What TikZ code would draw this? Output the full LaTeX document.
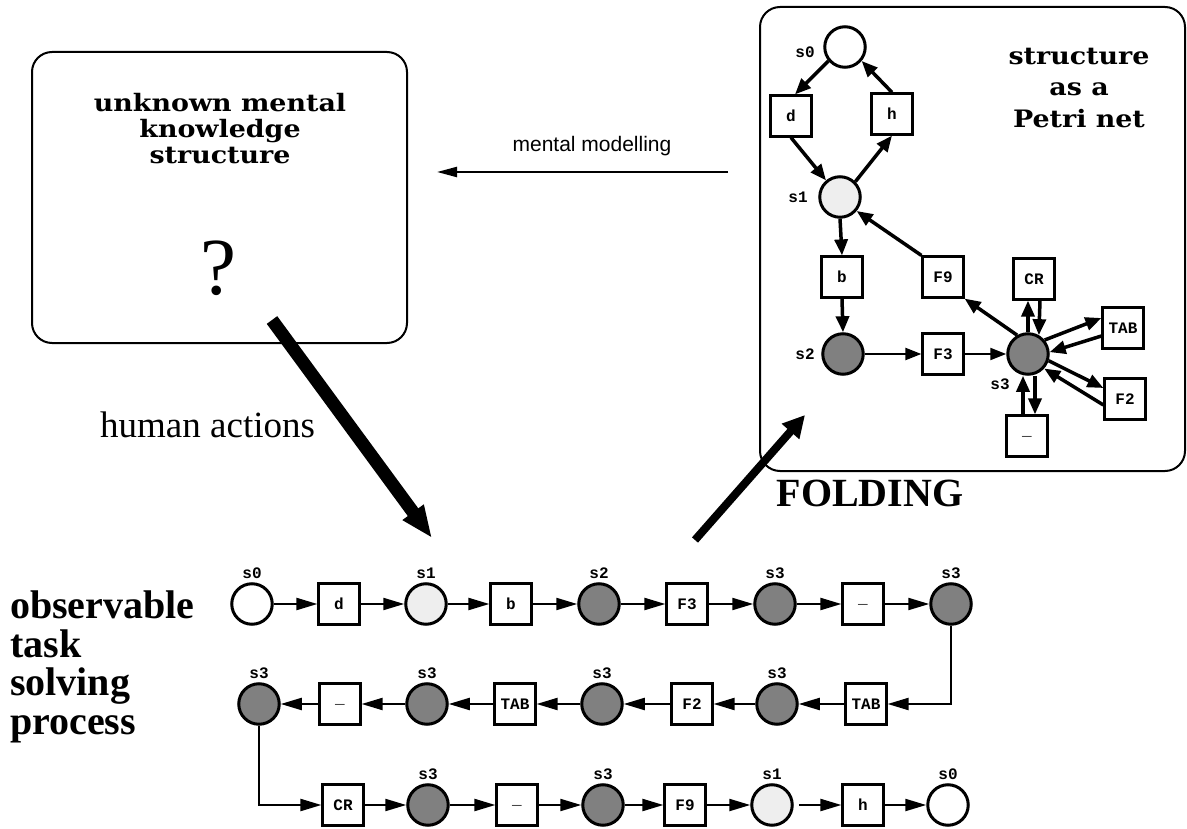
\documentclass[tikz,border=0pt]{standalone}
\usepackage{fontspec}
\setmainfont{Liberation Serif}
\newfontfamily\headfont[FakeStretch=1.12]{DejaVu Serif}
\newfontfamily\pnmono{Liberation Mono}
\newfontfamily\mmsans{Liberation Sans}
\usetikzlibrary{arrows.meta}
\definecolor{lightp}{HTML}{EEEEEE}
\definecolor{darkp}{HTML}{808080}
\begin{document}
\begin{tikzpicture}[x=1pt,y=-1pt,
  place/.style={circle, draw, line width=3pt, minimum size=40.5pt, inner sep=0pt},
  p0/.style={place, fill=white},
  p1/.style={place, fill=lightp},
  p2/.style={place, fill=darkp},
  trans/.style={rectangle, draw, line width=2.2pt, minimum size=41pt, inner sep=0pt, fill=white,
    font=\pnmono\bfseries\fontsize{16}{16}\selectfont},
  lab/.style={font=\pnmono\bfseries\fontsize{16}{16}\selectfont, inner sep=0pt},
  toplab/.style={label={[lab,label distance=3pt]above:#1}},
  seq/.style={-{Triangle[length=21pt,width=12pt]}, line width=2.2pt},
  pn/.style={-{Triangle[length=16pt,width=13pt]}, line width=3.5pt},
  pnthin/.style={-{Triangle[length=16pt,width=12pt]}, line width=2.2pt},
  bigbox/.style={draw, line width=2pt, rounded corners=20pt, inner sep=0pt},
  head/.style={font=\headfont\bfseries\fontsize{24}{26}\selectfont, align=center, inner sep=0pt},
]
\useasboundingbox (0,0) rectangle (1187,829);

% ---------- big boxes ----------
\node[bigbox, minimum width=375pt, minimum height=291pt] (kbox) at (219.5,197.5) {};
\node[bigbox, minimum width=425pt, minimum height=464pt] (pbox) at (972.5,239) {};

\node[head] (ktext) at (220,129) {unknown mental\\knowledge\\structure};
\node[font=\fontsize{81}{81}\selectfont, inner sep=0pt] (qm) at (218,268) {?};

\node[head, font=\headfont\bfseries\fontsize{24}{31.5}\selectfont] (ptext) at (1079,88) {structure\\as a\\Petri net};

% ---------- mental modelling ----------
\coordinate (mmS) at (728,172);
\coordinate (mmE) at (437,172);
\draw[line width=2.2pt, -{Triangle[length=20pt,width=10pt]}] (mmS) -- (mmE);
\node[font=\mmsans\fontsize{21}{21}\selectfont, inner sep=0pt] (mmlab) at (592,146) {mental modelling};

% ---------- Petri net ----------
\node[p0] (P0) at (845,47) {};
\node[trans] (Pd) at (791,116) {d};
\node[trans] (Ph) at (892,114) {h};
\node[p1] (P1) at (840,197) {};
\node[trans] (Pb) at (842,277) {b};
\node[trans] (PF9) at (943,277) {F9};
\node[trans] (PCR) at (1034,279) {CR};
\node[p2] (P2) at (843,354) {};
\node[trans] (PF3) at (943,354) {F3};
\node[p2] (P3) at (1028,354) {};
\node[trans] (PTAB) at (1123,328) {TAB};
\node[trans] (PF2) at (1125,399) {F2};
\node[trans] (Pu) at (1027,436) {\_};

\node[lab] (L0) at (805,52) {s0};
\node[lab] (L1) at (798,197) {s1};
\node[lab] (L2) at (805,354) {s2};
\node[lab] (L3) at (1000,384) {s3};

\draw[pn] (P0.220) -- ([xshift=4pt]Pd.north);
\draw[pn] (Ph.north) -- (P0.-40);
\draw[pn] (Pd.south) -- (P1.130);
\draw[pn] (P1.45) -- (Ph.south);
\draw[pn] (P1.south) -- (Pb.north);
\draw[pn] (PF9.north west) -- (P1.-40);
\draw[pn] (Pb.south) -- (P2.north);
\draw[pnthin] (P2) -- (PF3);
\draw[pnthin] (PF3) -- (P3);
\draw[pn] (P3.120) -- (PF9.south east);
\draw[pn] (P3.north) -- (P3.north |- PCR.south);
\draw[pn] ([xshift=6pt]PCR.south) -- (P3.60);
\draw[pn] (P3.40) -- ([yshift=10pt]PTAB.west);
\draw[pn] ([yshift=-8pt]PTAB.west) -- (P3.5);
\draw[pn] (P3.-18) -- ([yshift=11pt]PF2.west);
\draw[pn] ([yshift=-6pt]PF2.west) -- (P3.-42);
\draw[pn] ([xshift=7pt]P3.south) -- ([xshift=8pt]Pu.north);
\draw[pn] ([xshift=-4pt]Pu.north) -- ([xshift=-5pt]P3.south);

% ---------- thick arrows ----------
\coordinate (haS) at (272,320);
\coordinate (haE) at (432,538);
\draw[line width=13pt, -{Triangle[length=32pt,width=24pt]}] (haS) -- (haE);
\node[font=\fontsize{37}{37}\selectfont, anchor=base west, inner sep=0pt] (halab) at (100,437) {human actions};

\coordinate (foS) at (695,540);
\coordinate (foE) at (805,415);
\draw[line width=8pt, -{Triangle[length=22pt,width=22pt]}] (foS) -- (foE);
\node[font=\bfseries\fontsize{40}{40}\selectfont, inner sep=0pt] (folab) at (870,493) {FOLDING};

\node[font=\bfseries\fontsize{40}{38.5}\selectfont, align=left, anchor=north west, inner sep=0pt] (obs) at (10,591) {observable\\task\\solving\\process};

% ---------- observed sequence ----------
\node[p0, toplab=s0] (a1) at (252,604) {};
\node[trans] (a2) at (339,604) {d};
\node[p1, toplab=s1] (a3) at (426,604) {};
\node[trans] (a4) at (511,604) {b};
\node[p2, toplab=s2] (a5) at (599,604) {};
\node[trans] (a6) at (687,604) {F3};
\node[p2, toplab=s3] (a7) at (775,604) {};
\node[trans] (a8) at (863,604) {\_};
\node[p2, toplab=s3] (a9) at (951,604) {};

\node[trans] (b1) at (866,704) {TAB};
\node[p2, toplab=s3] (b2) at (777,704) {};
\node[trans] (b3) at (692,704) {F2};
\node[p2, toplab=s3] (b4) at (602,704) {};
\node[trans] (b5) at (515,704) {TAB};
\node[p2, toplab=s3] (b6) at (427,704) {};
\node[trans] (b7) at (340,704) {\_};
\node[p2, toplab=s3] (b8) at (259,704) {};

\node[trans] (c1) at (343,805) {CR};
\node[p2, toplab=s3] (c2) at (428,805) {};
\node[trans] (c3) at (517,805) {\_};
\node[p2, toplab=s3] (c4) at (603,805) {};
\node[trans] (c5) at (685,805) {F9};
\node[p1, toplab=s1] (c6) at (772,805) {};
\node[trans] (c7) at (863,805) {h};
\node[p0, toplab=s0] (c8) at (948,805) {};

\foreach \u/\v in {a1/a2,a2/a3,a3/a4,a4/a5,a5/a6,a6/a7,a7/a8,a8/a9,
                   b1/b2,b2/b3,b3/b4,b4/b5,b5/b6,b6/b7,b7/b8,
                   c1/c2,c2/c3,c3/c4,c4/c5,c5/c6,c7/c8}
  \draw[seq] (\u) -- (\v);
\draw[seq, shorten <=5pt] (c6) -- (c7);
\draw[seq] (a9) |- (b1);
\draw[seq] (b8) |- (c1);
\end{tikzpicture}
\end{document}
